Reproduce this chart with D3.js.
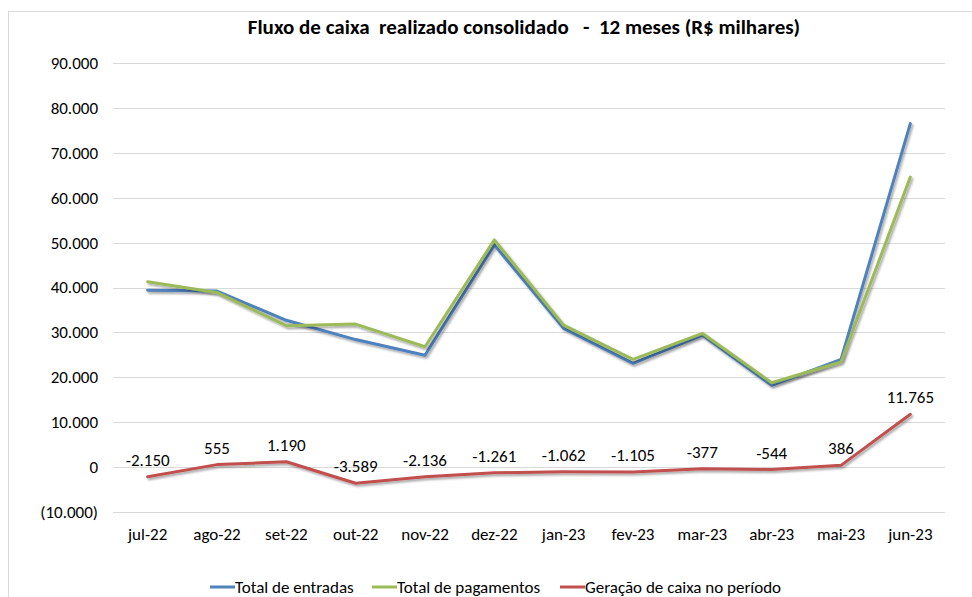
<!DOCTYPE html>
<html>
<head>
<meta charset="utf-8">
<script src="https://cdn.jsdelivr.net/npm/d3@7"></script>
<style>
  body { margin: 0; background: #fff; }
  svg text { font-family: Carlito, Lato, "Liberation Sans", sans-serif; fill: #000; }
</style>
</head>
<body>
<div id="chart"></div>
<script>
// chart data (R$ milhares)
const months = ['jul-22', 'ago-22', 'set-22', 'out-22', 'nov-22', 'dez-22',
  'jan-23', 'fev-23', 'mar-23', 'abr-23', 'mai-23', 'jun-23'];
const entradas = [39400, 39200, 32700, 28400, 24900, 49500, 30900, 23100, 29400, 18200, 24000, 76500];
const pagamentos = [41300, 38900, 31500, 31850, 26800, 50600, 31600, 24000, 29800, 18800, 23400, 64600];
const geracao = [-2150, 555, 1190, -3589, -2136, -1261, -1062, -1105, -377, -544, 386, 11765];
const yTicks = [-10000, 0, 10000, 20000, 30000, 40000, 50000, 60000, 70000, 80000, 90000];

const series = [
  { name: 'Total de entradas', values: entradas, color: '#4f81bd' },
  { name: 'Total de pagamentos', values: pagamentos, color: '#9bbb59' },
  { name: 'Geração de caixa no período', values: geracao, color: '#c0504d' }
];

const width = 972, height = 597;
const margin = { left: 113, right: 27, top: 63, bottom: 85 };

const svg = d3.select('#chart').append('svg')
  .attr('width', width)
  .attr('height', height);

// outer chart border
svg.append('rect')
  .attr('x', 8.5).attr('y', 11.5)
  .attr('width', width + 20).attr('height', height + 20)
  .attr('fill', 'none').attr('stroke', '#d9d9d9');

const defs = svg.append('defs');
const f = defs.append('filter').attr('id', 'shadow')
  .attr('x', '-10%').attr('y', '-10%').attr('width', '120%').attr('height', '130%');
f.append('feDropShadow')
  .attr('dx', 1.5).attr('dy', 2).attr('stdDeviation', 1)
  .attr('flood-color', '#000').attr('flood-opacity', 0.35);

const x = d3.scaleBand()
  .domain(months)
  .range([margin.left, width - margin.right]);

const y = d3.scaleLinear()
  .domain([-10000, 90000])
  .range([height - margin.bottom, margin.top]);

const fmt = v => {
  const s = d3.format(',')(Math.abs(v)).replace(/,/g, '.');
  return v < 0 ? '-' + s : s;
};
const tickFmt = v => {
  if (v === 0) return '0';
  const s = d3.format(',')(Math.abs(v)).replace(/,/g, '.');
  return v < 0 ? '(' + s + ')' : s;
};

// gridlines
svg.append('g')
  .selectAll('line')
  .data(yTicks)
  .join('line')
  .attr('x1', margin.left).attr('x2', width - margin.right)
  .attr('y1', d => Math.round(y(d)) + 0.5).attr('y2', d => Math.round(y(d)) + 0.5)
  .attr('stroke', '#d9d9d9').attr('stroke-width', 1);

// y axis labels
const yAxis = svg.append('g')
  .attr('transform', `translate(${margin.left},0)`)
  .call(d3.axisLeft(y).tickValues(yTicks).tickFormat(tickFmt).tickSize(0).tickPadding(15));
yAxis.select('.domain').remove();
yAxis.selectAll('text').style('font-size', '17px').attr('fill', '#000');

// x axis labels
const xAxis = svg.append('g')
  .attr('transform', `translate(0,${y(-10000)})`)
  .call(d3.axisBottom(x).tickSize(0).tickPadding(16));
xAxis.select('.domain').remove();
xAxis.selectAll('text').style('font-size', '17px').attr('fill', '#000');

const line = d3.line()
  .x((d, i) => x(months[i]) + x.bandwidth() / 2)
  .y(d => y(d));

svg.append('g')
  .selectAll('path')
  .data(series)
  .join('path')
  .attr('d', d => line(d.values))
  .attr('fill', 'none')
  .attr('stroke', d => d.color)
  .attr('stroke-width', 3)
  .attr('stroke-linejoin', 'round')
  .attr('stroke-linecap', 'round')
  .attr('filter', 'url(#shadow)');

// data labels for geração de caixa
svg.append('g')
  .selectAll('text')
  .data(geracao)
  .join('text')
  .attr('x', (d, i) => x(months[i]) + x.bandwidth() / 2)
  .attr('y', d => y(d) - 11)
  .attr('text-anchor', 'middle')
  .style('font-size', '17px')
  .text(fmt);

// title
svg.append('text')
  .attr('x', 524).attr('y', 34)
  .attr('text-anchor', 'middle')
  .style('font-size', '21px')
  .style('font-weight', 'bold')
  .attr('xml:space', 'preserve')
  .text('Fluxo de caixa  realizado consolidado   -  12 meses (R$ milhares)');

// legend
const legendX = [235, 397, 585];
const lg = svg.append('g').selectAll('g')
  .data(series)
  .join('g')
  .attr('transform', (d, i) => `translate(${legendX[i]},587)`);
lg.append('line')
  .attr('x1', -25).attr('x2', 0).attr('y1', 0).attr('y2', 0)
  .attr('stroke', d => d.color).attr('stroke-width', 3);
lg.append('text')
  .attr('x', 0).attr('y', 6)
  .style('font-size', '17px')
  .text(d => d.name);
</script>
</body>
</html>
